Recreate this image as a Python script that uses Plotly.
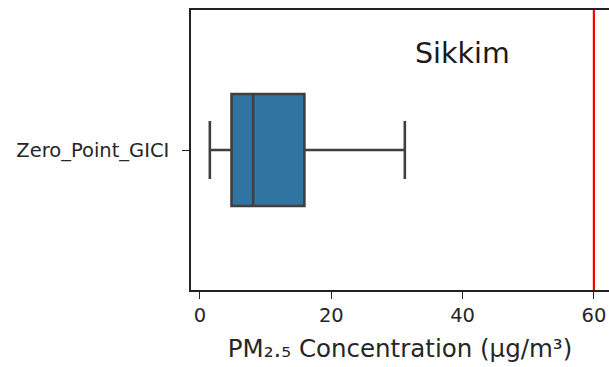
import plotly.graph_objects as go

# Data
categories = ["Zero_Point_GICI"]
q1_vals = [4.8]
median_vals = [8.1]
q3_vals = [15.9]
lower_whisker = [1.5]
upper_whisker = [31.2]
threshold = 60
title_text = "Sikkim"
x_ticks = [0, 20, 40, 60]

FONT = "DejaVu Sans"

fig = go.Figure()
fig.add_trace(go.Box(
    y=categories,
    q1=q1_vals,
    median=median_vals,
    q3=q3_vals,
    lowerfence=lower_whisker,
    upperfence=upper_whisker,
    orientation="h",
    boxpoints=False,
    width=0.4,
    whiskerwidth=0.52,
    fillcolor="#3274a1",
    line=dict(color="#3f3f3f", width=2.6),
    showlegend=False,
))

fig.add_vline(x=threshold, line=dict(color="#ff0000", width=2.2), layer="above")

fig.add_annotation(
    x=40, y=0.845, xref="x", yref="paper",
    text=title_text, showarrow=False,
    font=dict(family=FONT, size=28.5, color="#1a1a1a"),
    xanchor="center", yanchor="middle",
)

fig.update_layout(
    width=609, height=367,
    margin=dict(l=191, r=0, t=10, b=77),
    paper_bgcolor="white", plot_bgcolor="white",
    font=dict(family=FONT, color="#262626"),
    xaxis=dict(
        range=[-1.37, 62.3],
        tickvals=x_ticks,
        ticks="outside", ticklen=7, tickwidth=1.3, tickcolor="#222",
        showline=True, linecolor="#222", linewidth=1.5, mirror=True,
        showgrid=False, zeroline=False,
        tickfont=dict(family=FONT, size=19.5, color="#262626"),
        title=dict(text="PM₂.₅ Concentration (µg/m³)",
                   font=dict(family=FONT, size=24.5, color="#262626"),
                   standoff=14),
    ),
    yaxis=dict(
        type="category",
        range=[-0.5, 0.5],
        ticks="outside", ticklen=7, tickwidth=1.3, tickcolor="#222",
        showline=True, linecolor="#222", linewidth=1.5, mirror=False,
        showgrid=False, zeroline=False,
        ticklabelstandoff=9,
        tickfont=dict(family=FONT, size=19.5, color="#262626"),
    ),
)

# Remove the default page-body margin so the figure fills the window exactly.
fig.write_html(
    "out.html",
    config={"displayModeBar": False},
    post_script="document.body.style.margin='0';document.body.style.overflow='hidden';",
)
